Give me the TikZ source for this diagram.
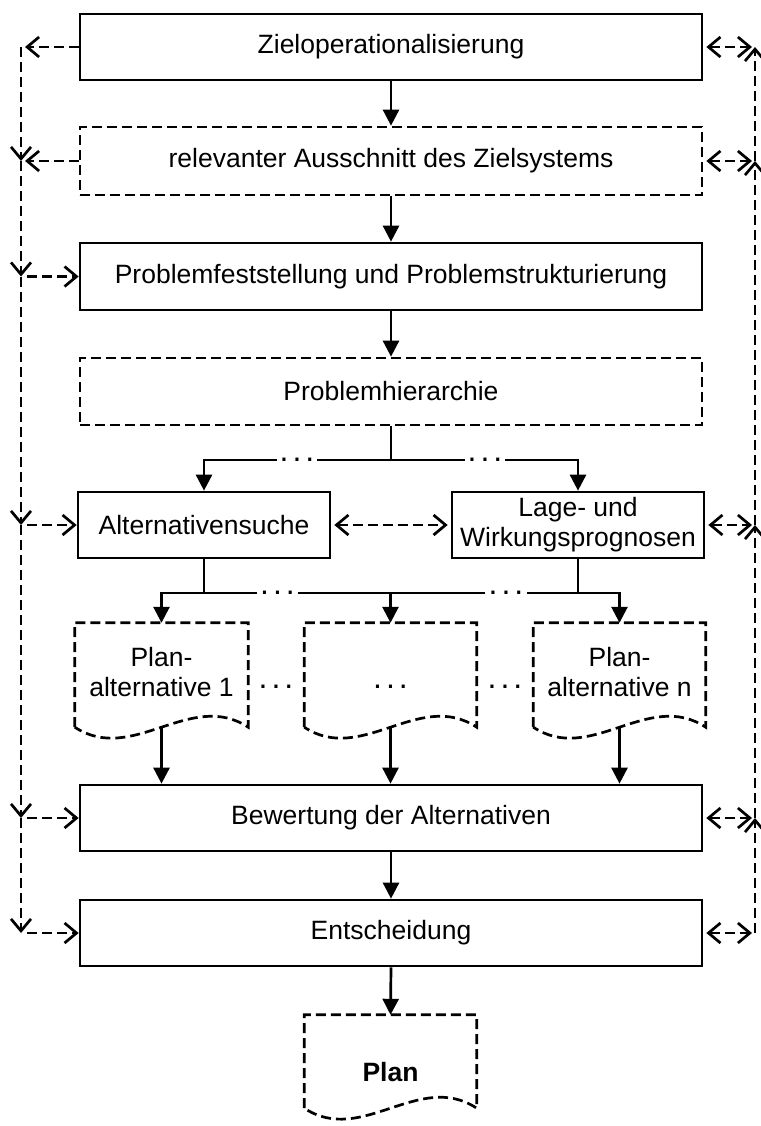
\documentclass[tikz,border=0pt]{standalone}
\usepackage{fontspec}
\setmainfont{Liberation Sans}
\usetikzlibrary{arrows.meta,calc}
\tikzset{
  base/.style={font=\fontsize{26.5}{30}\selectfont, align=center, inner sep=0pt},
  sbox/.style={base, draw, line width=2.7pt, minimum height=66pt},
  dbox/.style={sbox, line width=2.7pt, dash pattern=on 10pt off 5pt},
  docarea/.style={inner sep=0pt, minimum width=172pt, minimum height=104pt},
  sl/.style={line width=2.7pt},
  dl/.style={line width=2.7pt, dash pattern=on 10pt off 5pt},
  mytri/.tip={Triangle[length=16pt,width=16pt]},
  mybarb/.tip={Straight Barb[length=12pt,width=20pt,line width=2.7pt]},
  dotnode/.style={base, font=\fontsize{32}{32}\selectfont, minimum width=40pt, minimum height=4pt},
}
\newcommand\mydots{.\hspace{4pt}.\hspace{4pt}.}
\newcommand\docpath[1]{%
  \draw[dl] (#1.south west) -- (#1.north west) -- (#1.north east) -- (#1.south east)
  .. controls ($(#1.south east)!0.333!(#1.south west)+(0,-38)$) and ($(#1.south east)!0.667!(#1.south west)+(0,38)$) .. (#1.south west) -- cycle;}
\begin{document}
\begin{tikzpicture}[x=1pt,y=-1pt]
\useasboundingbox (0,0) rectangle (760,1126);
% boxes
\node[sbox, minimum width=622pt] (z) at (391,47) {Zieloperationalisierung};
\node[dbox, minimum width=622pt, minimum height=68pt] (rel) at (391,161) {relevanter Ausschnitt des Zielsystems};
\node[sbox, minimum width=622pt, minimum height=67pt] (pf) at (391,276.5) {Problemfeststellung und Problemstrukturierung};
\node[dbox, minimum width=622pt, minimum height=67pt] (ph) at (391,391.5) {Problemhierarchie};
\node[sbox, minimum width=252pt] (alt) at (204,525) {Alternativensuche};
\node[sbox, minimum width=252pt] (lage) at (578,525) {Lage- und\\Wirkungsprognosen};
\node[sbox, minimum width=622pt] (bew) at (391,818) {Bewertung der Alternativen};
\node[sbox, minimum width=622pt] (ent) at (391,933) {Entscheidung};
% documents
\node[docarea, minimum width=173pt] (doc1) at (161.5,675) {};
\node[docarea] (doc2) at (390.5,675) {};
\node[docarea] (doc3) at (619.5,675) {};
\node[docarea, minimum height=93pt] (plan) at (390.5,1061.5) {};
\docpath{doc1}\docpath{doc2}\docpath{doc3}\docpath{plan}
\node[base] (t1) at (161.5,672) {Plan-\\alternative 1};
\node[dotnode] (t2) at (390.5,687) {\mydots};
\node[base] (t3) at (619.5,672) {Plan-\\alternative n};
\node[base, font=\fontsize{26.5}{30}\selectfont\bfseries] (tp) at (390.5,1072) {Plan};
\node[dotnode] (e1) at (276,687) {\mydots};
\node[dotnode] (e2) at (505,687) {\mydots};
% main flow
\draw[sl,-mytri] (z.south) -- (rel.north);
\draw[sl,-mytri] (rel.south) -- (pf.north);
\draw[sl,-mytri] (pf.south) -- (ph.north);
\draw[sl,-mytri] (bew.south) -- (ent.north);
\draw[sl,-mytri] (ent.south) -- (plan.north);
% first split
\coordinate (s1c) at (391,460);
\coordinate (s1l) at (alt.north |- s1c);
\coordinate (s1r) at (lage.north |- s1c);
\node[dotnode] (d1) at (297,460) {\mydots};
\node[dotnode] (d2) at (485,460) {\mydots};
\draw[sl] (ph.south) -- (s1c);
\draw[sl,-mytri] (d1.west) -- (s1l) -- (alt.north);
\draw[sl] (d1.east) -- (d2.west);
\draw[sl,-mytri] (d2.east) -- (s1r) -- (lage.north);
% second split
\coordinate (s2m) at (390.5,593);
\coordinate (s2l) at (doc1.north |- s2m);
\coordinate (s2r) at (doc3.north |- s2m);
\coordinate (s2a) at (alt.south |- s2m);
\coordinate (s2b) at (lage.south |- s2m);
\node[dotnode, minimum width=41pt] (d3) at (277.5,593) {\mydots};
\node[dotnode, minimum width=42pt] (d4) at (506,593) {\mydots};
\draw[sl] (alt.south) -- (s2a);
\draw[sl] (lage.south) -- (s2b);
\draw[sl,-mytri] (d3.west) -- (s2l) -- (doc1.north);
\draw[sl] (d3.east) -- (d4.west);
\draw[sl,-mytri] (s2m) -- (doc2.north);
\draw[sl,-mytri] (d4.east) -- (s2r) -- (doc3.north);
% docs to evaluation
\draw[sl,-mytri] (doc1.south) -- (doc1.south |- bew.north);
\draw[sl,-mytri] (doc2.south) -- (doc2.south |- bew.north);
\draw[sl,-mytri] (doc3.south) -- (doc3.south |- bew.north);
% alternatives <-> prognoses
\draw[dl,mybarb-mybarb,shorten <=3pt,shorten >=3pt] (alt.east) -- (lage.west);
% left feedback line
\coordinate (lx) at (21,0);
\coordinate (L1) at (z.west -| lx);
\coordinate (L2) at (rel.west -| lx);
\coordinate (L3) at (pf.west -| lx);
\coordinate (L4) at (alt.west -| lx);
\coordinate (L5) at (bew.west -| lx);
\coordinate (L6) at (ent.west -| lx);
\draw[dl,-mybarb,shorten >=4pt] (z.west) -- (L1);
\draw[dl,-mybarb,shorten >=4pt] (rel.west) -- (L2);
\draw[dl,-mybarb] (L1) -- (L2);
\draw[dl,-mybarb] (L2) -- (L3);
\draw[dl,-mybarb] (L3) -- (L4);
\draw[dl,-mybarb] (L4) -- (L5);
\draw[dl,-mybarb] (L5) -- (L6);
\draw[dl,-mybarb,shorten <=6pt] (L3) -- (pf.west);
\draw[dl,-mybarb,shorten <=6pt] (L4) -- (alt.west);
\draw[dl,-mybarb,shorten <=6pt] (L5) -- (bew.west);
\draw[dl,-mybarb,shorten <=6pt] (L6) -- (ent.west);
% right feedback line
\coordinate (rx) at (755,0);
\coordinate (R1) at (z.east -| rx);
\coordinate (R2) at (rel.east -| rx);
\coordinate (R3) at (lage.east -| rx);
\coordinate (R4) at (bew.east -| rx);
\coordinate (R5) at (ent.east -| rx);
\draw[dl,mybarb-mybarb,shorten <=3pt,shorten >=3pt] (z.east) -- (R1);
\draw[dl,mybarb-mybarb,shorten <=3pt,shorten >=3pt] (rel.east) -- (R2);
\draw[dl,mybarb-mybarb,shorten <=3pt,shorten >=3pt] (lage.east) -- (R3);
\draw[dl,mybarb-mybarb,shorten <=3pt,shorten >=3pt] (bew.east) -- (R4);
\draw[dl,mybarb-mybarb,shorten <=3pt,shorten >=3pt] (ent.east) -- (R5);
\draw[dl,-mybarb] (R5) -- (R4);
\draw[dl,-mybarb] (R4) -- (R3);
\draw[dl,-mybarb] (R3) -- (R2);
\draw[dl,-mybarb] (R2) -- (R1);
\end{tikzpicture}
\end{document}
